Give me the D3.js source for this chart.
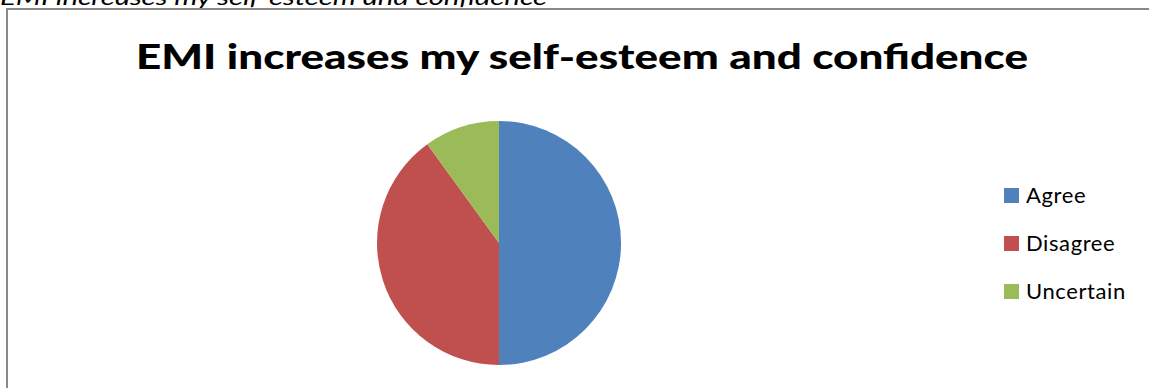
<!DOCTYPE html>
<html>
  <head>
    <meta charset="UTF-8" />
    <script src="https://d3js.org/d3.v7.min.js"></script>
    <title>EMI increases my self-esteem and confidence</title>
    <style>
      body { margin: 0; background: #fff; }
    </style>
  </head>
  <body>
    <div id="chart"></div>
    <script>
      // data
      var categories = ["Agree", "Disagree", "Uncertain"];
      var values = [50, 40, 10];
      var colors = ["#4F81BD", "#C0504D", "#9BBB59"];
      var chartTitle = "EMI increases my self-esteem and confidence";

      var width = 1149, height = 388;

      var svg = d3.select("#chart")
        .append("svg")
        .attr("width", width)
        .attr("height", height);

      // caption cut off at the top
      svg.append("text")
        .attr("x", 0)
        .attr("y", 5)
        .style("font-family", "Lato, 'Open Sans', sans-serif")
        .style("font-style", "italic")
        .style("font-size", "22px")
        .attr("textLength", 547)
        .attr("lengthAdjust", "spacingAndGlyphs")
        .attr("fill", "#000")
        .text(chartTitle);

      // chart frame
      svg.append("rect")
        .attr("x", 7)
        .attr("y", 9)
        .attr("width", 1160)
        .attr("height", 400)
        .attr("fill", "#fff")
        .attr("stroke", "#898989")
        .attr("stroke-width", 2);

      // title
      svg.append("text")
        .attr("x", 136)
        .attr("y", 69)
        .style("font-family", "Lato, 'Open Sans', sans-serif")
        .style("font-weight", "900")
        .style("font-size", "34px")
        .attr("textLength", 892)
        .attr("lengthAdjust", "spacingAndGlyphs")
        .attr("fill", "#000")
        .text(chartTitle);

      // pie
      var color = d3.scaleOrdinal()
        .domain(categories)
        .range(colors);

      var pie = d3.pie().sort(null).value(function(d) { return d.value; });
      var arc = d3.arc().innerRadius(0).outerRadius(122);

      var data = categories.map(function(c, i) {
        return { name: c, value: values[i] };
      });

      svg.append("g")
        .attr("transform", "translate(499,243)")
        .selectAll("path")
        .data(pie(data))
        .enter()
        .append("path")
        .attr("d", arc)
        .attr("fill", function(d) { return color(d.data.name); });

      // legend
      var legend = svg.append("g")
        .attr("transform", "translate(1004,0)")
        .selectAll("g")
        .data(categories)
        .enter()
        .append("g")
        .attr("transform", function(d, i) { return "translate(0," + (195 + i * 48) + ")"; });

      legend.append("rect")
        .attr("x", 0)
        .attr("y", -7)
        .attr("width", 15)
        .attr("height", 15)
        .attr("fill", function(d) { return color(d); });

      legend.append("text")
        .attr("x", 22)
        .attr("y", 8)
        .style("font-family", "Lato, 'Open Sans', sans-serif")
        .style("font-size", "22px")
        .style("letter-spacing", "0.6px")
        .attr("fill", "#000")
        .text(function(d) { return d; });
    </script>
  </body>
</html>
